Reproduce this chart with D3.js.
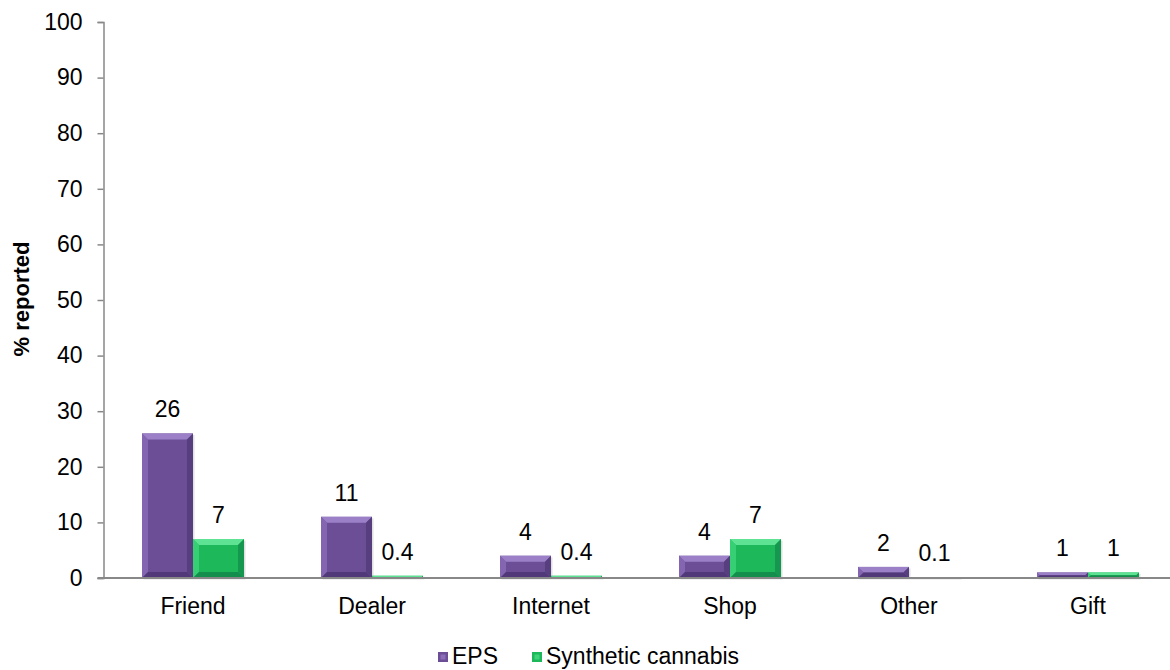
<!DOCTYPE html>
<html>
<head>
<meta charset="utf-8">
<script src="https://cdn.jsdelivr.net/npm/d3@7"></script>
<style>
  body { margin: 0; background: #fff; }
  svg { display: block; font-family: "Liberation Sans", Arial, sans-serif; }
</style>
</head>
<body>
<svg id="chart" width="1170" height="670"></svg>
<script>
const categories = ["Friend", "Dealer", "Internet", "Shop", "Other", "Gift"];
const seriesNames = ["EPS", "Synthetic cannabis"];
const epsValues = [26, 11, 4, 4, 2, 1];
const scValues = [7, 0.4, 0.4, 7, 0.1, 1];
const epsLabels = ["26", "11", "4", "4", "2", "1"];
const scLabels = ["7", "0.4", "0.4", "7", "0.1", "1"];
const yTicks = [0, 10, 20, 30, 40, 50, 60, 70, 80, 90, 100];

const colors = {
  "EPS": { base: "#6b4e96", light: "#8a6cb8", top: "#9b80c8", dark: "#4f3775" },
  "Synthetic cannabis": { base: "#1cb85a", light: "#3fd47a", top: "#5ee394", dark: "#13894a" }
};

const FS = 23;
const svg = d3.select("#chart");
const pLeft = 103.5, pRight = 1177.5, pTop = 22, pBottom = 578;

const x = d3.scaleBand().domain(categories).range([pLeft, pRight]).paddingInner(0).paddingOuter(0);
const bw = 51;
const y = d3.scaleLinear().domain([0, 100]).range([pBottom, pTop]);

// y axis
const yAxis = d3.axisLeft(y).tickValues(yTicks).tickSize(6).tickPadding(15);
const gy = svg.append("g").attr("transform", `translate(${pLeft},0)`).call(yAxis);
gy.select(".domain").attr("stroke", "#888").attr("stroke-width", 1.5);
gy.selectAll(".tick line").attr("stroke", "#888").attr("stroke-width", 1.5);
gy.selectAll(".tick text").attr("font-size", FS).attr("fill", "#000")
  .attr("font-family", "'Liberation Sans', Arial, sans-serif");

// y label
svg.append("text")
  .attr("transform", `translate(28.5,299) rotate(-90)`)
  .attr("text-anchor", "middle")
  .attr("font-size", 22).attr("font-weight", "bold")
  .text("% reported");

// data
const data = [];
categories.forEach((c, i) => {
  data.push({ cat: c, series: "EPS", v: epsValues[i], label: epsLabels[i], off: -bw });
  data.push({ cat: c, series: "Synthetic cannabis", v: scValues[i], label: scLabels[i], off: 0 });
});

const barG = svg.append("g");
data.forEach(d => {
  const cx = x(d.cat) + x.bandwidth() / 2;
  const x0 = cx + d.off, x1 = x0 + bw;
  const y0 = y(d.v), y1 = y(0);
  const h = y1 - y0;
  const c = colors[d.series];
  const g = barG.append("g");
  g.append("rect").attr("x", x0 + 1.5).attr("y", y0 + 1.5).attr("width", bw).attr("height", h)
    .attr("fill", "#000").attr("opacity", 0.12);
  g.append("rect").attr("x", x0).attr("y", y0).attr("width", bw).attr("height", h).attr("fill", c.base);
  const b = Math.min(6, h / 2, bw / 2);
  if (b > 0.8) {
    g.append("polygon").attr("points", [[x0, y0], [x1, y0], [x1 - b, y0 + b], [x0 + b, y0 + b]].join(" "))
      .attr("fill", c.top);
    g.append("polygon").attr("points", [[x0, y0], [x0 + b, y0 + b], [x0 + b, y1 - b], [x0, y1]].join(" "))
      .attr("fill", c.light).attr("opacity", 0.8);
    g.append("polygon").attr("points", [[x1, y0], [x1, y1], [x1 - b, y1 - b], [x1 - b, y0 + b]].join(" "))
      .attr("fill", c.dark).attr("opacity", 0.7);
    g.append("polygon").attr("points", [[x0, y1], [x0 + b, y1 - b], [x1 - b, y1 - b], [x1, y1]].join(" "))
      .attr("fill", c.dark).attr("opacity", 0.9);
  }
  svg.append("text")
    .attr("x", x0 + bw / 2).attr("y", y0 - 16)
    .attr("text-anchor", "middle").attr("font-size", FS).attr("fill", "#000")
    .text(d.label);
});

// x axis
const xAxis = d3.axisBottom(x).tickSize(0).tickPadding(20);
const gx = svg.append("g").attr("transform", `translate(0,${pBottom})`).call(xAxis);
gx.select(".domain").attr("stroke", "#888").attr("stroke-width", 2)
  .attr("d", `M${pLeft - 6},0H${pRight}`);
gx.selectAll(".tick text").attr("font-size", FS).attr("fill", "#000")
  .attr("font-family", "'Liberation Sans', Arial, sans-serif");

// legend
const legend = svg.append("g");
const legItems = [{ name: "EPS", x: 438 }, { name: "Synthetic cannabis", x: 532 }];
legItems.forEach(it => {
  const c = colors[it.name];
  legend.append("rect").attr("x", it.x).attr("y", 652).attr("width", 10).attr("height", 10).attr("fill", c.base);
  legend.append("rect").attr("x", it.x + 2.5).attr("y", 654.5).attr("width", 5).attr("height", 5).attr("fill", c.light);
  legend.append("text").attr("x", it.x + 14).attr("y", 664).attr("font-size", FS).attr("fill", "#000").text(it.name);
});
</script>
</body>
</html>
